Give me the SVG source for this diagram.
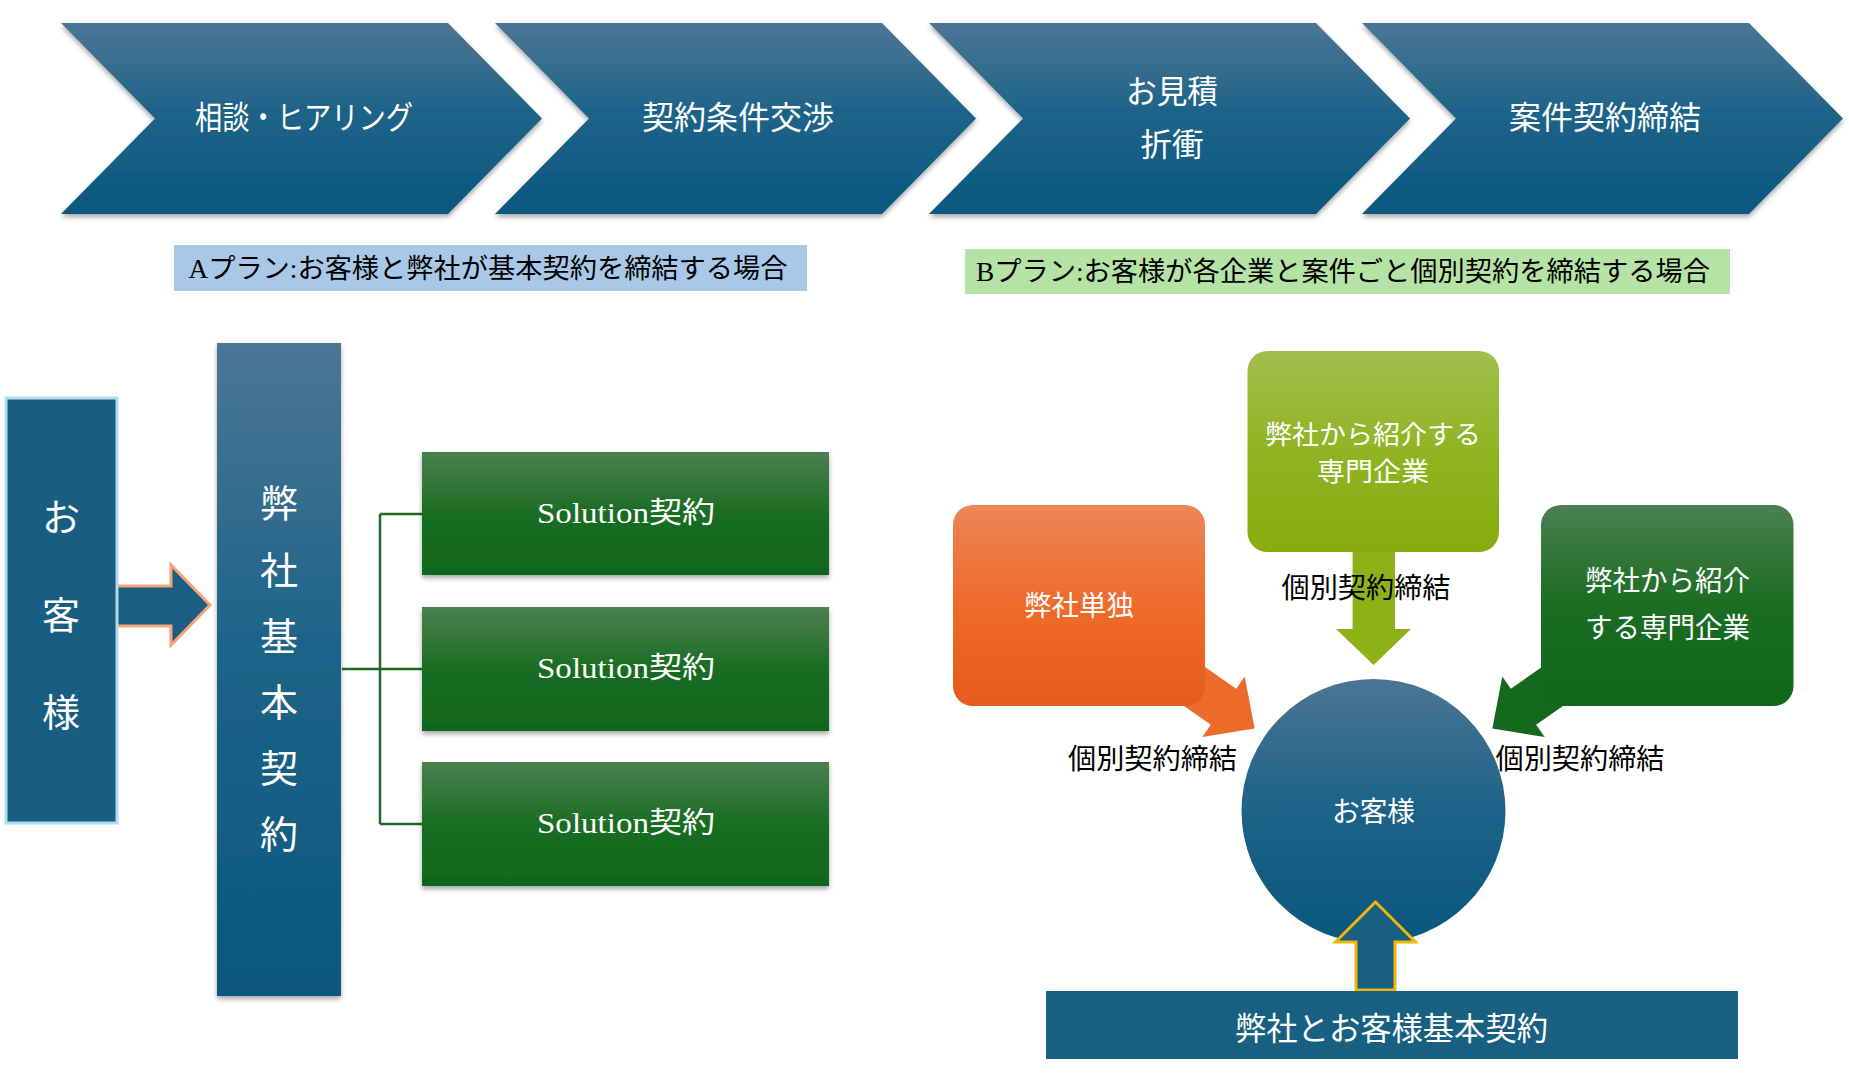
<svg xmlns="http://www.w3.org/2000/svg" width="1849" height="1084" viewBox="0 0 1849 1084">
<defs>
<linearGradient id="gBlue" x1="0" y1="0" x2="0" y2="1">
<stop offset="0" stop-color="#4b7694"/>
<stop offset="0.45" stop-color="#1f6489"/>
<stop offset="1" stop-color="#09577d"/>
</linearGradient>
<linearGradient id="gGreen" x1="0" y1="0" x2="0" y2="1">
<stop offset="0" stop-color="#4b8050"/>
<stop offset="0.5" stop-color="#1a6d22"/>
<stop offset="1" stop-color="#10661b"/>
</linearGradient>
<linearGradient id="gLime" x1="0" y1="0" x2="0" y2="1">
<stop offset="0" stop-color="#a0bf4e"/>
<stop offset="0.5" stop-color="#90b422"/>
<stop offset="1" stop-color="#86ac0e"/>
</linearGradient>
<linearGradient id="gOrange" x1="0" y1="0" x2="0" y2="1">
<stop offset="0" stop-color="#ed8558"/>
<stop offset="0.5" stop-color="#f06a2a"/>
<stop offset="1" stop-color="#e35c1c"/>
</linearGradient>
<filter id="sh" x="-5%" y="-5%" width="110%" height="115%">
<feDropShadow dx="0" dy="3" stdDeviation="2.5" flood-color="#000" flood-opacity="0.35"/>
</filter>
</defs>
<style>
.w{fill:#fff;font-family:"Noto Sans CJK JP","Noto Sans",sans-serif;text-anchor:middle;dominant-baseline:central}
.k{fill:#000;font-family:"Noto Sans CJK JP","Noto Sans",sans-serif;text-anchor:middle;dominant-baseline:central}
.ks{fill:#000;font-family:"Liberation Serif","Noto Sans CJK JP",serif;text-anchor:middle;dominant-baseline:central}
.ws{fill:#fff;font-family:"Liberation Serif","Noto Sans CJK JP",serif;text-anchor:middle;dominant-baseline:central}
.chev{fill:url(#gBlue);filter:url(#sh)}
.sol{fill:url(#gGreen);filter:url(#sh)}
.conn{fill:none;stroke:#1e6a24;stroke-width:2.5}
</style>

<g id="chevron1">
<path class="chev" d="M61,23 H448 L542,118.5 L448,214 H61 L155,118.5 Z"/>
<text class="w" x="304" y="115" font-size="32" textLength="218" lengthAdjust="spacingAndGlyphs">相談・ヒアリング</text>
</g>
<g id="chevron2">
<path class="chev" d="M495,23 H882 L976,118.5 L882,214 H495 L589,118.5 Z"/>
<text class="w" x="738" y="115" font-size="32" textLength="192" lengthAdjust="spacingAndGlyphs">契約条件交渉</text>
</g>
<g id="chevron3">
<path class="chev" d="M929,23 H1316 L1410,118.5 L1316,214 H929 L1023,118.5 Z"/>
<text class="w" x="1172" y="89" font-size="32" textLength="92" lengthAdjust="spacingAndGlyphs">お見積</text>
<text class="w" x="1172" y="142" font-size="32" textLength="63" lengthAdjust="spacingAndGlyphs">折衝</text>
</g>
<g id="chevron4">
<path class="chev" d="M1362,23 H1749 L1843,118.5 L1749,214 H1362 L1456,118.5 Z"/>
<text class="w" x="1605" y="115" font-size="32" textLength="192" lengthAdjust="spacingAndGlyphs">案件契約締結</text>
</g>

<g id="planA">
<rect x="174" y="245" width="633" height="46" fill="#a9c8e8"/>
<text class="ks" x="488" y="269" font-size="27" textLength="599" lengthAdjust="spacingAndGlyphs">Aプラン:お客様と弊社が基本契約を締結する場合</text>
</g>
<g id="planB">
<rect x="965" y="249" width="765" height="45" fill="#b5e3a5"/>
<text class="ks" x="1343" y="271.5" font-size="27" textLength="734" lengthAdjust="spacingAndGlyphs">Bプラン:お客様が各企業と案件ごと個別契約を締結する場合</text>
</g>

<g id="connectors">
<path class="conn" d="M342,669 H422 M380,514 V824 M380,514 H422 M380,824 H422"/>
<path d="M116,586 H171 V565 L210,605 L171,645 V626 H116 Z" fill="#1a5f82" stroke="#f4a57a" stroke-width="3" stroke-linejoin="miter"/>
<path d="M1352.6,540 H1395 V629 H1411 L1373.6,665 L1336,629 H1352.6 Z" fill="#8db218"/>
<path d="M-110,-22 H0 V-37 L38,0 L0,37 V22 H-110 Z" fill="#ec6a2a" transform="translate(1223.5,706.8) rotate(35)"/>
<path d="M-110,-22 H0 V-37 L38,0 L0,37 V22 H-110 Z" fill="#15691f" transform="translate(1523.5,706.8) rotate(145)"/>
</g>

<g id="customerA">
<rect x="6" y="398" width="111" height="425" fill="#175e82" stroke="#b0dcef" stroke-width="3"/>
<text class="w" x="61" y="514" font-size="38">お</text>
<text class="w" x="61" y="612" font-size="38">客</text>
<text class="w" x="61" y="709" font-size="38">様</text>
</g>
<g id="basicContract">
<rect x="217" y="343" width="124" height="653" fill="url(#gBlue)" filter="url(#sh)"/>
<text class="w" x="279" y="500" font-size="38">弊</text>
<text class="w" x="279" y="567" font-size="38">社</text>
<text class="w" x="279" y="633" font-size="38">基</text>
<text class="w" x="279" y="699" font-size="38">本</text>
<text class="w" x="279" y="765" font-size="38">契</text>
<text class="w" x="279" y="831" font-size="38">約</text>
</g>
<g id="solution1">
<rect class="sol" x="422" y="452" width="407" height="123"/>
<text class="ws" x="626" y="513" font-size="29" textLength="178" lengthAdjust="spacingAndGlyphs">Solution契約</text>
</g>
<g id="solution2">
<rect class="sol" x="422" y="607" width="407" height="124"/>
<text class="ws" x="626" y="668" font-size="29" textLength="178" lengthAdjust="spacingAndGlyphs">Solution契約</text>
</g>
<g id="solution3">
<rect class="sol" x="422" y="762" width="407" height="124"/>
<text class="ws" x="626" y="823" font-size="29" textLength="178" lengthAdjust="spacingAndGlyphs">Solution契約</text>
</g>

<g id="introCompanyTop">
<rect x="1247.5" y="351" width="251.5" height="201" rx="20" fill="url(#gLime)"/>
<text class="w" x="1373" y="432" font-size="26" textLength="216" lengthAdjust="spacingAndGlyphs">弊社から紹介する</text>
<text class="w" x="1373" y="469" font-size="26" textLength="112" lengthAdjust="spacingAndGlyphs">専門企業</text>
</g>
<g id="ownCompany">
<rect x="953" y="505" width="252" height="201" rx="20" fill="url(#gOrange)"/>
<text class="w" x="1079" y="604" font-size="28" textLength="110" lengthAdjust="spacingAndGlyphs">弊社単独</text>
</g>
<g id="introCompanyRight">
<rect x="1541" y="505" width="252.5" height="201" rx="20" fill="url(#gGreen)"/>
<text class="w" x="1667.5" y="579" font-size="28" textLength="165" lengthAdjust="spacingAndGlyphs">弊社から紹介</text>
<text class="w" x="1667.5" y="626" font-size="28" textLength="165" lengthAdjust="spacingAndGlyphs">する専門企業</text>
</g>

<g id="customerB">
<circle cx="1373.5" cy="811" r="132" fill="url(#gBlue)"/>
<text class="w" x="1373.5" y="810" font-size="28" textLength="83" lengthAdjust="spacingAndGlyphs">お客様</text>
</g>

<g id="labels">
<text class="k" x="1366" y="586" font-size="28" textLength="169" lengthAdjust="spacingAndGlyphs">個別契約締結</text>
<text class="k" x="1152.5" y="757" font-size="28" textLength="169" lengthAdjust="spacingAndGlyphs">個別契約締結</text>
<text class="k" x="1580" y="757" font-size="28" textLength="169" lengthAdjust="spacingAndGlyphs">個別契約締結</text>
</g>

<g id="upArrow">
<path d="M1356,990 V942 H1335.5 L1375.5,902 L1415.5,942 H1395 V990 Z" fill="#1a5f82" stroke="#f2b705" stroke-width="3"/>
</g>

<g id="basicContractB">
<rect x="1046" y="991" width="692" height="68" fill="#176082"/>
<text class="w" x="1391.5" y="1026" font-size="32" textLength="313" lengthAdjust="spacingAndGlyphs">弊社とお客様基本契約</text>
</g>
</svg>
